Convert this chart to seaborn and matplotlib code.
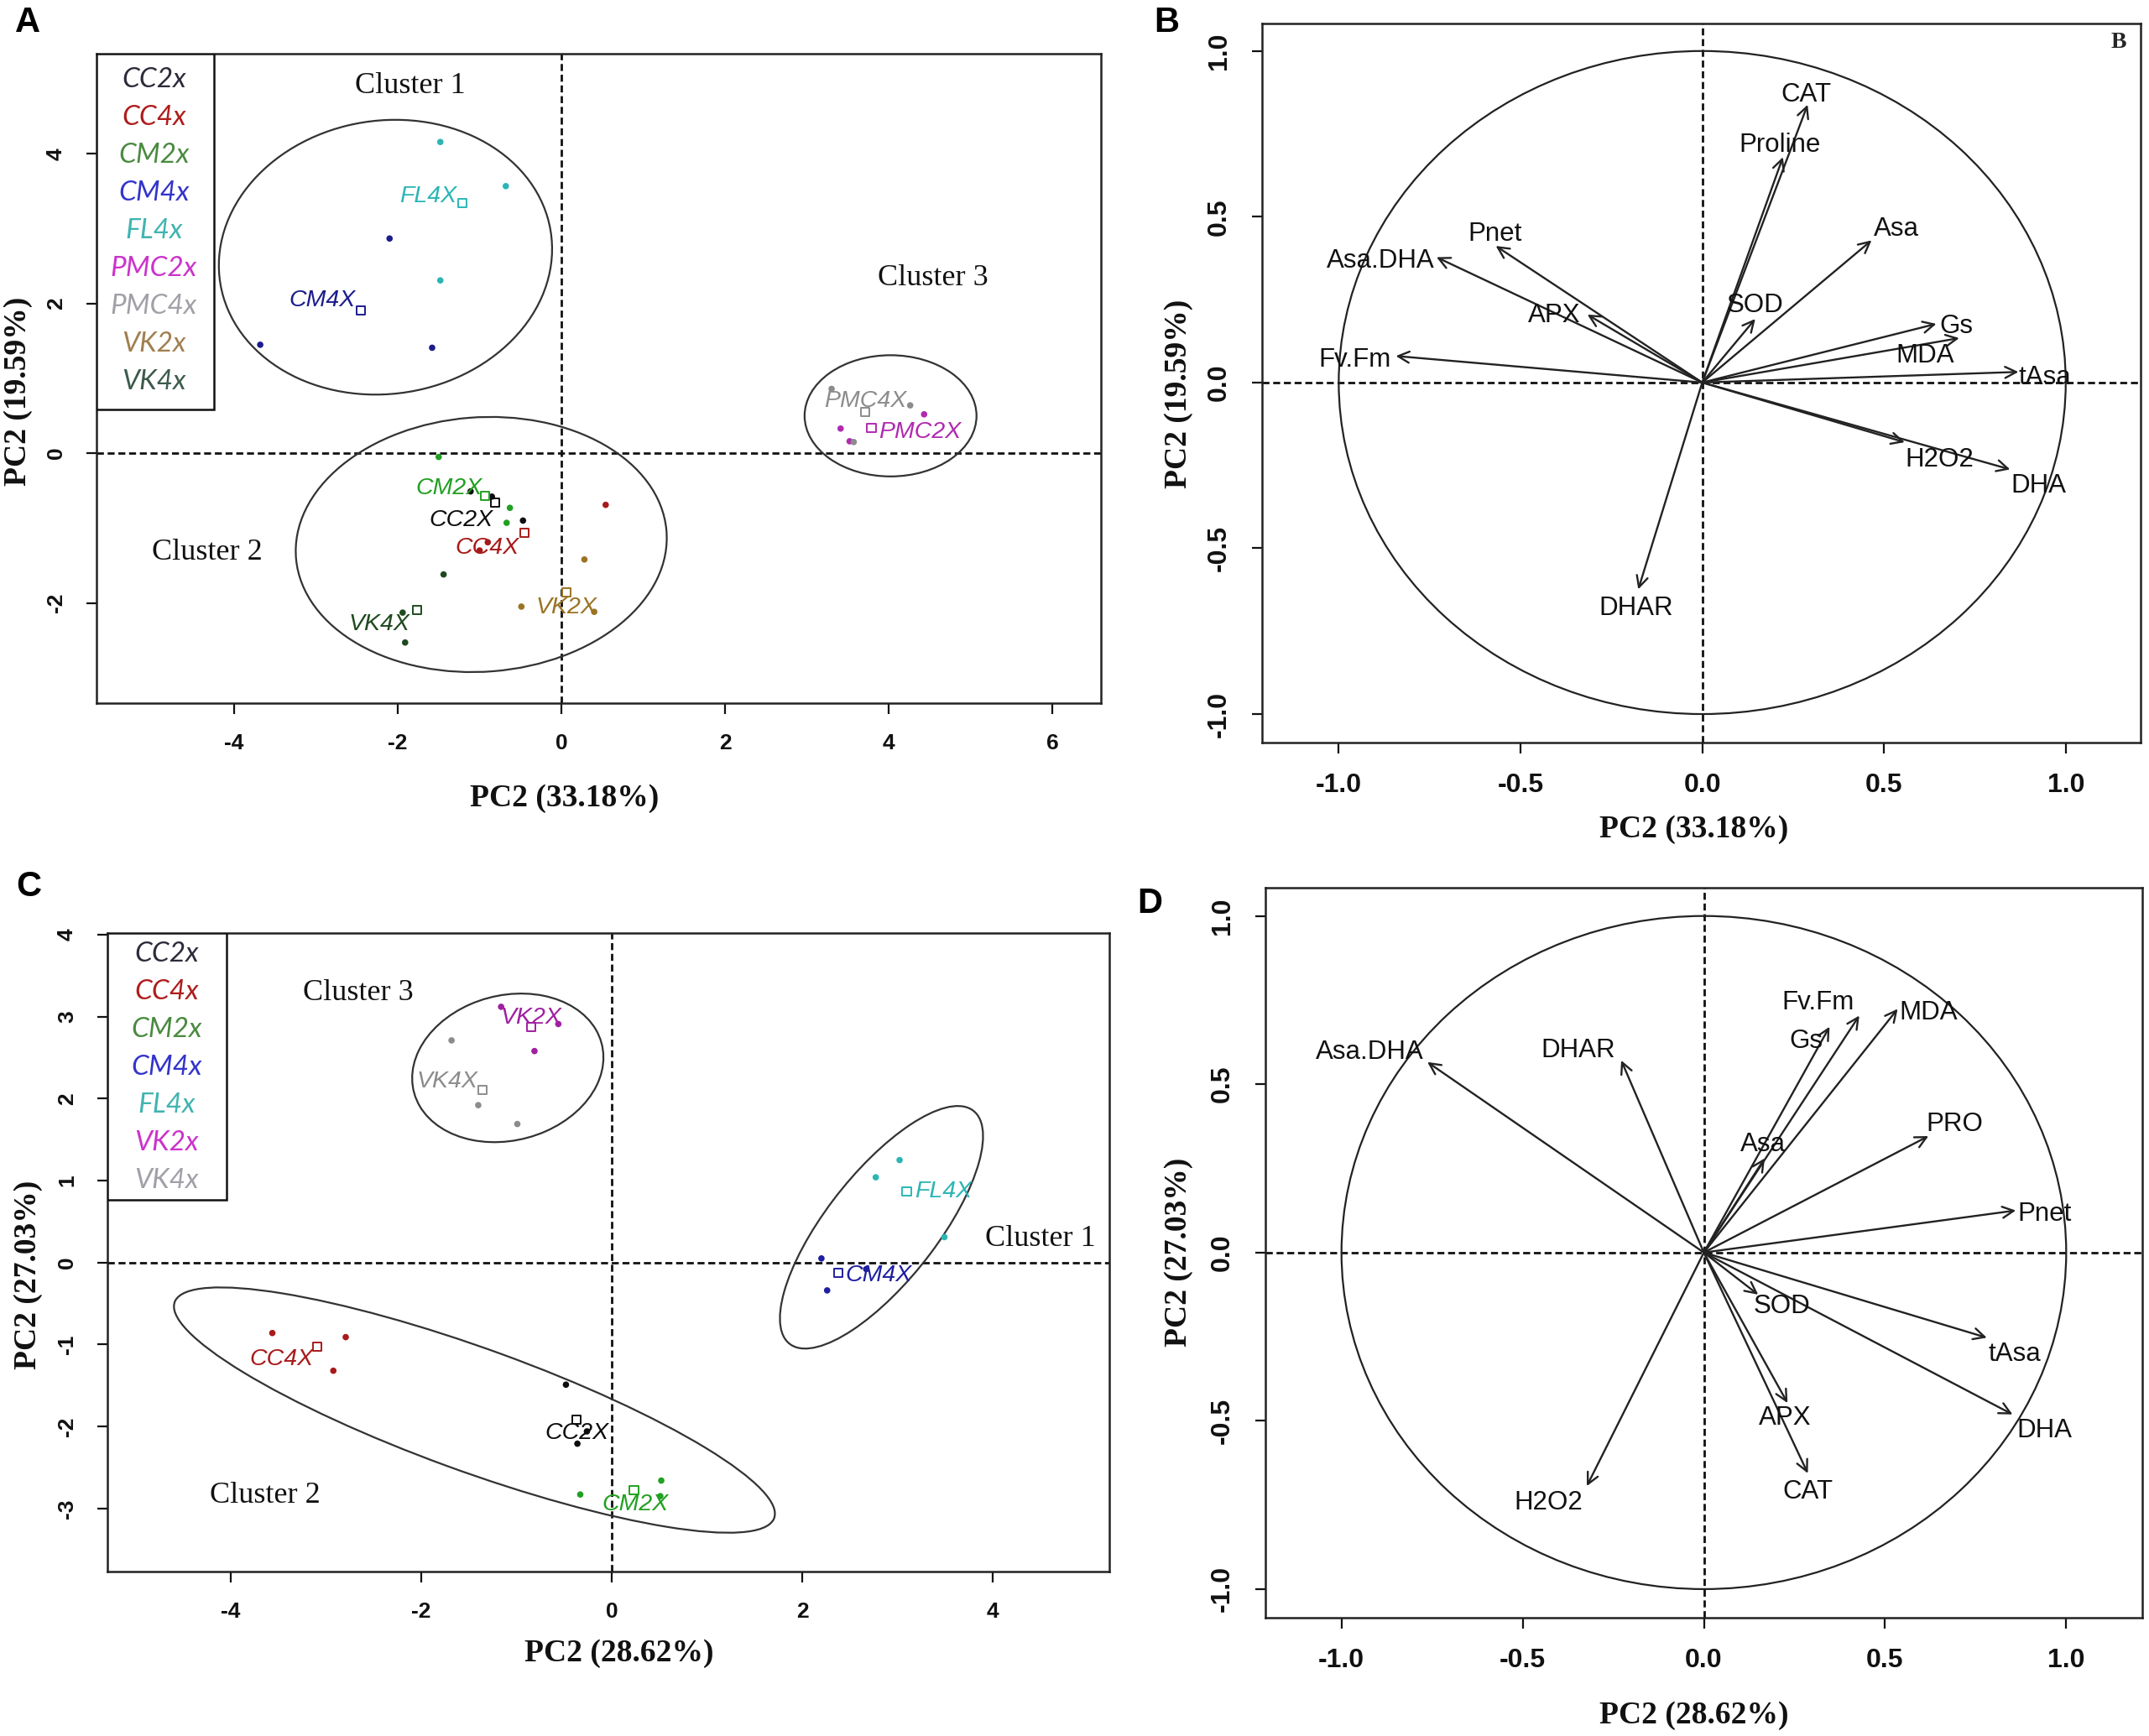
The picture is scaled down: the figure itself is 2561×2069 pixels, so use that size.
import numpy as np
import pandas as pd
import matplotlib
matplotlib.use("Agg")
import matplotlib.pyplot as plt
import seaborn as sns
from matplotlib.patches import Ellipse, Circle, Rectangle

W, H = 2561, 2069

# ---------------- Panel A: PCA scores (group, PC1, PC2) ----------------
a_group = (["CC2x"] * 3 + ["CC4x"] * 3 + ["CM2x"] * 3 + ["CM4x"] * 3 + ["FL4x"] * 3
           + ["PMC2x"] * 3 + ["PMC4x"] * 3 + ["VK2x"] * 3 + ["VK4x"] * 3)
a_pc1 = [-1.11, -0.85, -0.47,   0.54, -1.00, -0.90,  -1.50, -0.63, -0.67,
         -2.10, -3.68, -1.58,  -1.48, -0.68, -1.48,   4.43, 3.41, 3.52,
         3.30, 4.26, 3.57,      0.28, -0.49, 0.40,   -1.44, -1.94, -1.91]
a_pc2 = [-0.51, -0.58, -0.90,  -0.69, -1.30, -1.19,  -0.05, -0.73, -0.93,
         2.87, 1.45, 1.41,      4.16, 3.57, 2.31,     0.52, 0.33, 0.16,
         0.86, 0.64, 0.15,     -1.42, -2.05, -2.12,  -1.62, -2.13, -2.53]
a_levels = ["CC2x", "CC4x", "CM2x", "CM4x", "FL4x", "PMC2x", "PMC4x", "VK2x", "VK4x"]
a_clusters = ["Cluster 1", "Cluster 2", "Cluster 3"]
a_ell_center = [(-2.15, 2.62), (-0.98, -1.22), (4.02, 0.50)]
a_ell_size = [(4.1, 3.64), (4.54, 3.40), (2.10, 1.62)]
a_ell_angle = [15, 5, 0]

# ---------------- Panel C: PCA scores ----------------
c_group = (["CC2x"] * 3 + ["CC4x"] * 3 + ["CM2x"] * 3 + ["CM4x"] * 3 + ["FL4x"] * 3
           + ["VK2x"] * 3 + ["VK4x"] * 3)
c_pc1 = [-0.48, -0.36, -0.26,  -3.56, -2.79, -2.92,  -0.33, 0.52, 0.51,
         2.20, 2.26, 2.67,      2.77, 3.02, 3.49,    -1.16, -0.56, -0.81,
         -1.68, -1.40, -0.99]
c_pc2 = [-1.49, -2.21, -2.06,  -0.86, -0.91, -1.32,  -2.83, -2.66, -2.85,
         0.05, -0.34, -0.08,    1.04, 1.25, 0.31,     3.12, 2.91, 2.58,
         2.71, 1.92, 1.69]
c_levels = ["CC2x", "CC4x", "CM2x", "CM4x", "FL4x", "VK2x", "VK4x"]
c_ell_center = [(2.83, 0.43), (-1.44, -1.80), (-1.09, 2.375)]
c_ell_size = [(3.44, 1.21), (6.82, 1.48), (2.07, 1.74)]
c_ell_angle = [57, -23, 27]

# ---------------- Panel B: variable loadings ----------------
b_vars = ["CAT", "Proline", "Asa", "SOD", "Gs", "MDA", "tAsa", "H2O2", "DHA",
          "DHAR", "Fv.Fm", "Asa.DHA", "Pnet", "APX"]
b_pc1 = [0.290, 0.222, 0.466, 0.146, 0.644, 0.707, 0.870, 0.557, 0.847,
         -0.176, -0.843, -0.731, -0.568, -0.316]
b_pc2 = [0.838, 0.680, 0.429, 0.192, 0.177, 0.134, 0.032, -0.180, -0.262,
         -0.624, 0.080, 0.378, 0.412, 0.205]

# ---------------- Panel D: variable loadings ----------------
d_vars = ["Fv.Fm", "Gs", "MDA", "Asa.DHA", "DHAR", "PRO", "Asa", "Pnet", "SOD",
          "tAsa", "DHA", "APX", "CAT", "H2O2"]
d_pc1 = [0.429, 0.347, 0.535, -0.763, -0.228, 0.620, 0.168, 0.861, 0.150,
         0.781, 0.852, 0.231, 0.287, -0.323]
d_pc2 = [0.704, 0.671, 0.724, 0.566, 0.571, 0.346, 0.280, 0.125, -0.125,
         -0.253, -0.481, -0.447, -0.656, -0.694]

# ---------------- styles / layout ----------------
point_colors = {"CC2x": "#0d0d0d", "CC4x": "#a81a1a", "CM2x": "#23a023",
                "CM4x": "#1c1c8c", "FL4x": "#2cb5b5", "PMC2x": "#b02ab0",
                "PMC4x": "#8c8c8c", "VK2x": "#9a7424", "VK4x": "#1f4a1f"}
c_point_colors = dict(point_colors, CM4x="#1f1fa0", VK2x="#a020a0", VK4x="#8c8c8c")
legend_colors = {"CC2x": "#2b2b3b", "CC4x": "#b01c1c", "CM2x": "#4a8a40",
                 "CM4x": "#3333cc", "FL4x": "#40b4b0", "PMC2x": "#cc33cc",
                 "PMC4x": "#a0a0a8", "VK2x": "#a08050", "VK4x": "#3c5c4c"}
c_legend_colors = dict(legend_colors, VK2x="#cc33cc", VK4x="#a0a0a8")

# group label offsets from centroid (dx, dy, ha)
a_lab_off = {"CC2x": (-0.03, -0.23, "right"), "CC4x": (-0.06, -0.20, "right"),
             "CM2x": (-0.03, 0.10, "right"), "CM4x": (-0.06, 0.13, "right"),
             "FL4x": (-0.07, 0.09, "right"), "PMC2x": (0.09, -0.05, "left"),
             "PMC4x": (0.0, 0.15, "center"), "VK2x": (0.0, -0.20, "center"),
             "VK4x": (-0.09, -0.19, "right")}
c_lab_off = {"CC2x": (0.0, -0.16, "center"), "CC4x": (-0.04, -0.15, "right"),
             "CM2x": (0.01, -0.17, "center"), "CM4x": (0.075, -0.03, "left"),
             "FL4x": (0.09, 0.0, "left"), "VK2x": (0.0, 0.12, "center"),
             "VK4x": (-0.05, 0.10, "right")}
a_cluster_pos = [(-1.85, 4.91), (-4.33, -1.33), (4.54, 2.34)]
c_cluster_pos = [(4.50, 0.29), (-3.64, -2.84), (-2.66, 3.29)]

b_lab_pos = {"CAT": (0.285, 0.869), "Proline": (0.214, 0.716), "Asa": (0.535, 0.462),
             "SOD": (0.145, 0.232), "Gs": (0.698, 0.169), "MDA": (0.613, 0.080),
             "tAsa": (0.943, 0.016), "H2O2": (0.653, -0.233), "DHA": (0.925, -0.311),
             "DHAR": (-0.181, -0.681), "Fv.Fm": (-0.957, 0.069),
             "Asa.DHA": (-0.885, 0.367), "Pnet": (-0.571, 0.447), "APX": (-0.408, 0.201)}
d_lab_pos = {"Fv.Fm": (0.314, 0.742), "Gs": (0.283, 0.629), "MDA": (0.620, 0.712),
             "Asa.DHA": (-0.922, 0.596), "DHAR": (-0.347, 0.601), "PRO": (0.693, 0.380),
             "Asa": (0.164, 0.321), "Pnet": (0.940, 0.113), "SOD": (0.215, -0.161),
             "tAsa": (0.858, -0.303), "DHA": (0.940, -0.528), "APX": (0.223, -0.491),
             "CAT": (0.286, -0.711), "H2O2": (-0.429, -0.744)}

sns.set_style("ticks")
plt.rcParams["font.family"] = ["Liberation Sans", "DejaVu Sans"]
plt.rcParams["axes.unicode_minus"] = False
plt.rcParams["axes.linewidth"] = 1.8
SERIF = ["Liberation Serif", "DejaVu Serif"]

fig = plt.figure(figsize=(W / 100, H / 100), dpi=100)
fig.patch.set_facecolor("white")


def px_axes(l, t, r, b):
    return fig.add_axes([l / W, 1 - b / H, (r - l) / W, (b - t) / H])


def ftext(x, y, s, **kw):
    fig.text(x / W, 1 - y / H, s, ha="center", va="center", **kw)


def style_axes(ax, xlim, ylim, xticks, yticks, size, fmt=None):
    ax.set_xlim(*xlim)
    ax.set_ylim(*ylim)
    ax.set_xticks(xticks)
    ax.set_yticks(yticks)
    if fmt:
        ax.set_xticklabels([fmt.format(v) for v in xticks])
        ax.set_yticklabels([fmt.format(v) for v in yticks])
    ax.tick_params(direction="out", length=9, width=1.6, pad=17, labelsize=size,
                   colors="#111111")
    ax.tick_params(axis="y", labelrotation=90)
    for lbl in ax.get_xticklabels() + ax.get_yticklabels():
        lbl.set_fontweight("bold")
    for lbl in ax.get_yticklabels():
        lbl.set_va("center")
    for sp in ax.spines.values():
        sp.set_visible(True)
        sp.set_color("#222222")
    ax.axhline(0, color="#111111", lw=2, ls=(0, (3, 1.6)), zorder=1)
    ax.axvline(0, color="#111111", lw=2, ls=(0, (3, 1.6)), zorder=1)
    ax.set_xlabel("")
    ax.set_ylabel("")


def score_panel(ax, groups, pc1, pc2, levels, colors, lab_off, centers, sizes, angles,
                clusters, cluster_pos, leg_colors, leg_box):
    df = pd.DataFrame({"group": groups, "PC1": pc1, "PC2": pc2})
    sns.scatterplot(data=df, x="PC1", y="PC2", hue="group", hue_order=levels,
                    palette=colors, s=30, linewidth=0, legend=False, ax=ax, zorder=3)
    cent = df.groupby("group")[["PC1", "PC2"]].mean()
    for g in levels:
        cx, cy = cent.loc[g, "PC1"], cent.loc[g, "PC2"]
        ax.scatter([cx], [cy], marker="s", s=55, facecolors="none",
                   edgecolors=colors[g], linewidths=1.4, zorder=4)
        dx, dy, ha = lab_off[g]
        ax.text(cx + dx, cy + dy, g[:-1] + "X", color=colors[g], fontsize=20.5,
                style="italic", ha=ha, va="center", zorder=5)
    for (cx, cy), (w, h), ang in zip(centers, sizes, angles):
        ax.add_patch(Ellipse((cx, cy), w, h, angle=ang, fill=False, lw=1.6,
                             ec="#333333", zorder=2))
    for name, (x, y) in zip(clusters, cluster_pos):
        ax.text(x, y, name, fontsize=26, family=SERIF, ha="center", va="center",
                color="#111111")
    bx, by, step, right = leg_box
    ax.add_patch(Rectangle((0, by), right, 1 - by, transform=ax.transAxes,
                           fill=True, fc="white", ec="#111111", lw=1.8, zorder=6))
    for i, g in enumerate(levels):
        ax.text(bx, 1 - step[0] - i * step[1], g, transform=ax.transAxes,
                color=leg_colors[g], fontsize=24, family=["Lato", "DejaVu Sans"],
                style="italic", ha="center", va="center", zorder=7)


def loading_panel(ax, names, pc1, pc2, lab_pos):
    ax.add_patch(Circle((0, 0), 1, fill=False, lw=1.6, ec="#222222", zorder=2))
    for n, x, y in zip(names, pc1, pc2):
        ax.annotate("", xy=(x, y), xytext=(0, 0),
                    arrowprops=dict(arrowstyle="->,head_length=0.6,head_width=0.3",
                                    lw=1.7, color="#222222", shrinkA=0, shrinkB=0,
                                    mutation_scale=16), zorder=3)
        lx, ly = lab_pos[n]
        ax.text(lx, ly, n, fontsize=22.5, ha="center", va="center", color="#111111",
                zorder=4)


# ---- A ----
axA = px_axes(115, 64, 1312, 838)
score_panel(axA, a_group, a_pc1, a_pc2, a_levels, point_colors, a_lab_off,
            a_ell_center, a_ell_size, a_ell_angle, a_clusters, a_cluster_pos,
            legend_colors, (0.057, 0.452, (0.040, 0.0581), 0.117))
style_axes(axA, (-5.68, 6.59), (-3.34, 5.34), [-4, -2, 0, 2, 4, 6], [-2, 0, 2, 4], 19)

# ---- B ----
axB = px_axes(1504, 28, 2551, 885)
loading_panel(axB, b_vars, b_pc1, b_pc2, b_lab_pos)
style_axes(axB, (-1.211, 1.206), (-1.086, 1.083), [-1, -0.5, 0, 0.5, 1],
           [-1, -0.5, 0, 0.5, 1], 23, "{:.1f}")
axB.text(0.975, 0.974, "B", transform=axB.transAxes, fontsize=20, family=SERIF,
         weight="bold", ha="center", va="center")

# ---- C ----
axC = px_axes(128, 1112, 1322, 1873)
score_panel(axC, c_group, c_pc1, c_pc2, c_levels, c_point_colors, c_lab_off,
            c_ell_center, c_ell_size, c_ell_angle, a_clusters, c_cluster_pos,
            c_legend_colors, (0.059, 0.582, (0.033, 0.0591), 0.119))
style_axes(axC, (-5.29, 5.22), (-3.77, 4.02), [-4, -2, 0, 2, 4],
           [-3, -2, -1, 0, 1, 2, 3, 4], 19)

# ---- D ----
axD = px_axes(1508, 1058, 2553, 1928)
loading_panel(axD, d_vars, d_pc1, d_pc2, d_lab_pos)
style_axes(axD, (-1.21, 1.21), (-1.085, 1.084), [-1, -0.5, 0, 0.5, 1],
           [-1, -0.5, 0, 0.5, 1], 23, "{:.1f}")

# axis titles and panel letters
lab_kw = dict(fontsize=27, family=SERIF, weight="bold", color="#111111")
ftext(673, 951, "PC2 (33.18%)", **lab_kw)
ftext(22, 466, "PC2 (19.59%)", rotation=90, **lab_kw)
ftext(2019, 989, "PC2 (33.18%)", **lab_kw)
ftext(1405, 469, "PC2 (19.59%)", rotation=90, **lab_kw)
ftext(738, 1970, "PC2 (28.62%)", **lab_kw)
ftext(34, 1519, "PC2 (27.03%)", rotation=90, **lab_kw)
ftext(2019, 2044, "PC2 (28.62%)", **lab_kw)
ftext(1405, 1492, "PC2 (27.03%)", rotation=90, **lab_kw)

letter_kw = dict(fontsize=30, weight="bold", color="#000000")
ftext(33, 27, "A", **letter_kw)
ftext(1390, 27, "B", **letter_kw)
ftext(34, 1057, "C", **letter_kw)
ftext(1370, 1077, "D", **letter_kw)

fig.savefig("out.png", dpi=100, facecolor="white")
